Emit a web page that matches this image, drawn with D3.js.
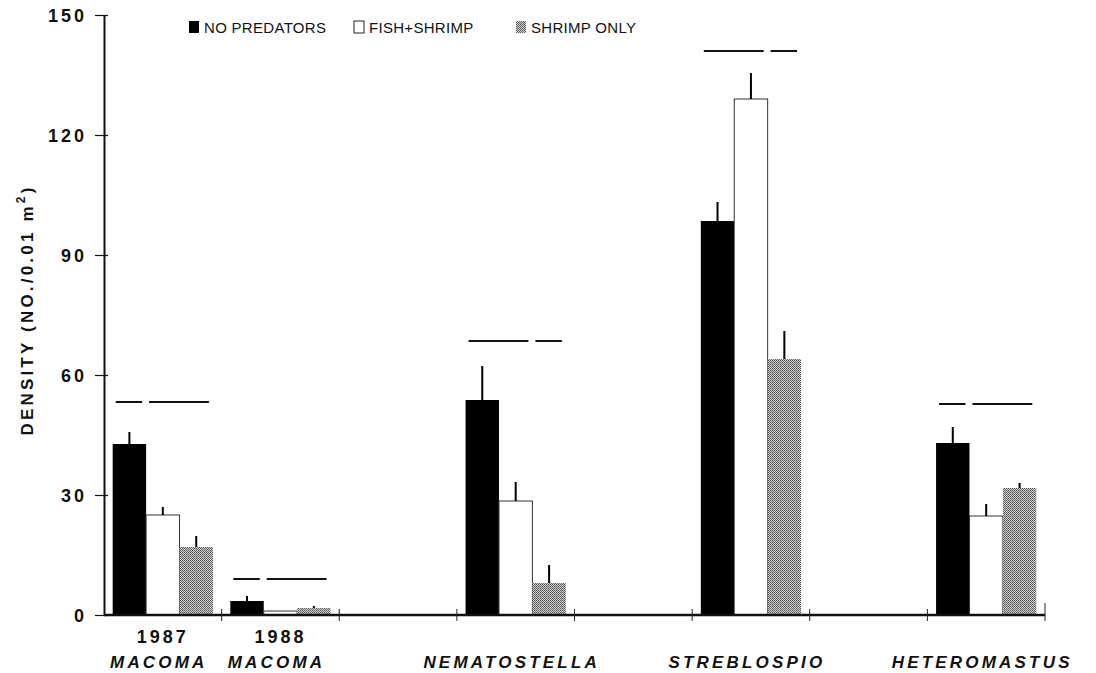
<!DOCTYPE html>
<html lang="en">
<head>
    <meta charset="utf-8">
    <title>Density by predator treatment</title>
    <script src="https://d3js.org/d3.v7.min.js"></script>
    <style>
        body { margin: 0; background: #fff; }
        text { font-family: "Liberation Sans", Arial, sans-serif; fill: #111; }
    </style>
</head>
<body>
<div id="chart-container"></div>
<script>
    // categories along the x axis (gaps are empty slots on the axis)
    const slots = ["MACOMA87", "MACOMA88", "gap1", "NEMATOSTELLA", "gap2", "STREBLOSPIO", "gap3", "HETEROMASTUS"];
    const groups = ["MACOMA87", "MACOMA88", "NEMATOSTELLA", "STREBLOSPIO", "HETEROMASTUS"];
    const groupYears = ["1987", "1988", "", "", ""];
    const groupNames = ["MACOMA", "MACOMA", "NEMATOSTELLA", "STREBLOSPIO", "HETEROMASTUS"];
    const treatments = ["NO PREDATORS", "FISH+SHRIMP", "SHRIMP ONLY"];

    // means and standard errors
    const noPredators    = [42.75, 3.5, 53.75, 98.5, 43];
    const noPredatorsSE  = [3, 1.25, 8.5, 4.75, 4];
    const fishShrimp     = [25, 1, 28.5, 129, 24.75];
    const fishShrimpSE   = [2, 0, 4.75, 6.5, 3];
    const shrimpOnly     = [17, 1.75, 8, 64, 31.75];
    const shrimpOnlySE   = [2.75, 0.5, 4.5, 7, 1.25];

    // lines joining treatments that do not differ
    const sigLevel  = [53.25, 9, 68.5, 141, 52.75];
    const sigGroups = [[[0, 0], [1, 2]], [[0, 0], [1, 2]], [[0, 1], [2, 2]], [[0, 1], [2, 2]], [[0, 0], [1, 2]]];

    const yTicks = [0, 30, 60, 90, 120, 150];

    const width = 1096, height = 673;
    const svg = d3.select("#chart-container").append("svg")
        .attr("width", width)
        .attr("height", height);

    // stippled fill for "shrimp only"
    const pat = svg.append("defs").append("pattern")
        .attr("id", "stipple")
        .attr("width", 2).attr("height", 2)
        .attr("patternUnits", "userSpaceOnUse");
    pat.append("rect").attr("width", 2).attr("height", 2).attr("fill", "#cfcfcf");
    pat.append("rect").attr("x", 0).attr("y", 0).attr("width", 1).attr("height", 1).attr("fill", "#555");
    pat.append("rect").attr("x", 1).attr("y", 1).attr("width", 1).attr("height", 1).attr("fill", "#6a6a6a");

    const fills = ["#000", "#fff", "url(#stipple)"];

    const x = d3.scaleBand().domain(slots).range([104, 1045]).padding(0);
    const xInner = d3.scaleBand().domain(d3.range(3)).range([0, x.bandwidth()]).paddingInner(0).paddingOuter(0.26);
    const y = d3.scaleLinear().domain([0, 150]).range([615, 15]);

    const series = [
        { means: noPredators, se: noPredatorsSE },
        { means: fishShrimp, se: fishShrimpSE },
        { means: shrimpOnly, se: shrimpOnlySE }
    ];

    const rows = [];
    groups.forEach((g, gi) => {
        series.forEach((s, ti) => {
            rows.push({ group: g, t: ti, value: s.means[gi], se: s.se[gi] });
        });
    });

    const barX = d => x(d.group) + xInner(d.t);
    const bw = xInner.bandwidth();

    // bars
    svg.append("g").selectAll("rect")
        .data(rows)
        .enter().append("rect")
        .attr("x", barX)
        .attr("y", d => y(d.value))
        .attr("width", bw)
        .attr("height", d => y(0) - y(d.value))
        .attr("fill", d => fills[d.t])
        .attr("stroke", d => d.t === 1 ? "#333" : "none")
        .attr("stroke-width", 1);

    // error bars (upper half only)
    svg.append("g").selectAll("line")
        .data(rows.filter(d => d.se > 0))
        .enter().append("line")
        .attr("x1", d => barX(d) + bw / 2)
        .attr("x2", d => barX(d) + bw / 2)
        .attr("y1", d => y(d.value))
        .attr("y2", d => y(d.value + d.se))
        .attr("stroke", "#000")
        .attr("stroke-width", 2);

    // significance lines
    const segs = [];
    groups.forEach((g, gi) => {
        sigGroups[gi].forEach(([a, b]) => segs.push({ group: g, a, b, level: sigLevel[gi] }));
    });
    svg.append("g").selectAll("line")
        .data(segs)
        .enter().append("line")
        .attr("x1", d => x(d.group) + xInner(d.a) + 3)
        .attr("x2", d => x(d.group) + xInner(d.b) + bw - 4)
        .attr("y1", d => y(d.level))
        .attr("y2", d => y(d.level))
        .attr("stroke", "#111")
        .attr("stroke-width", 2);

    // y axis
    const yAxis = svg.append("g")
        .attr("transform", "translate(104,0)")
        .call(d3.axisLeft(y).tickValues(yTicks).tickSize(9).tickPadding(8).tickSizeOuter(0));
    yAxis.select(".domain").attr("stroke", "#111").attr("stroke-width", 2);
    yAxis.selectAll(".tick line").attr("x2", 4).attr("x1", -9).attr("stroke", "#111").attr("stroke-width", 1.2);
    yAxis.selectAll(".tick text")
        .style("font-size", "18px")
        .style("font-weight", "bold")
        .style("letter-spacing", "3px")
        .attr("dy", "0.36em");

    // x axis with tick marks at slot boundaries
    const xAxis = svg.append("g").attr("transform", `translate(0,${y(0)})`);
    xAxis.append("line")
        .attr("x1", 104).attr("x2", 1045)
        .attr("stroke", "#111").attr("stroke-width", 2.5);
    const bounds = slots.map(s => x(s)).slice(1).concat([x.range()[1]]);
    xAxis.selectAll(".xtick")
        .data(bounds)
        .enter().append("line")
        .attr("class", "xtick")
        .attr("x1", d => d).attr("x2", d => d)
        .attr("y1", (d, i) => i === bounds.length - 1 ? -12 : -6)
        .attr("y2", 6)
        .attr("stroke", "#222").attr("stroke-width", 1);

    // x labels
    const labels = svg.append("g");
    groups.forEach((g, gi) => {
        const cx = x(g) + x.bandwidth() / 2;
        if (groupYears[gi]) {
            labels.append("text")
                .attr("x", cx).attr("y", 643)
                .attr("text-anchor", "middle")
                .style("font-size", "18px")
                .style("font-weight", "bold")
                .style("letter-spacing", "3px")
                .text(groupYears[gi]);
        }
        labels.append("text")
            .attr("x", cx - 4).attr("y", 668)
            .attr("text-anchor", "middle")
            .style("font-size", "17px")
            .style("font-weight", "bold")
            .style("font-style", "italic")
            .style("letter-spacing", "3.2px")
            .text(groupNames[gi]);
    });

    // y label
    const yl = svg.append("text")
        .attr("transform", "translate(33,310) rotate(-90)")
        .attr("text-anchor", "middle")
        .style("font-size", "17px")
        .style("font-weight", "bold")
        .style("letter-spacing", "3.2px");
    yl.append("tspan").text("DENSITY (NO./0.01 m");
    yl.append("tspan").attr("dy", -8).style("font-size", "12px").text("2");
    yl.append("tspan").attr("dy", 8).text(")");

    // legend
    const legendX = [189, 354, 516];
    const legend = svg.append("g");
    treatments.forEach((t, i) => {
        legend.append("rect")
            .attr("x", legendX[i]).attr("y", 21)
            .attr("width", 10).attr("height", 12)
            .attr("fill", fills[i])
            .attr("stroke", i === 1 ? "#222" : "none");
        legend.append("text")
            .attr("x", legendX[i] + 15).attr("y", 33)
            .style("font-size", "15px")
            .style("letter-spacing", "0.3px")
            .text(t);
    });
</script>
</body>
</html>
